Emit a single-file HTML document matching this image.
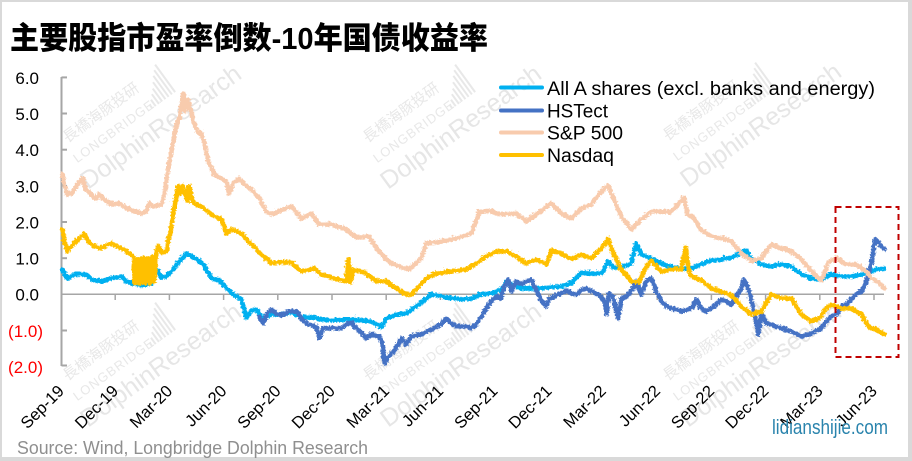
<!DOCTYPE html>
<html><head><meta charset="utf-8"><style>
html,body{margin:0;padding:0;background:#d9d9d9;}
svg{display:block;}
</style></head><body>
<svg width="912" height="461" viewBox="0 0 912 461" xmlns="http://www.w3.org/2000/svg">
<defs>
<filter id="rough" filterUnits="userSpaceOnUse" x="0" y="0" width="912" height="461">
  <feTurbulence type="turbulence" baseFrequency="0.35" numOctaves="1" seed="3" result="n"/>
  <feDisplacementMap in="SourceGraphic" in2="n" scale="4" xChannelSelector="R" yChannelSelector="G"/>
</filter>
<g id="wm" fill="#e6e6e6" font-family="Liberation Sans, Noto Sans CJK SC, sans-serif">
  <text x="11" y="-50" font-size="15" font-family="Noto Sans CJK TC, sans-serif" fill="#e8e8e8">長橋海豚投研</text>
  <text x="7" y="-28" font-size="13" fill="#e8e8e8" letter-spacing="1">LONGBRIDGE .</text>
  <g stroke="#e8e8e8" stroke-width="2">
    <line x1="100" y1="-28" x2="100" y2="-33"/><line x1="104" y1="-28" x2="104" y2="-36"/>
    <line x1="108" y1="-28" x2="108" y2="-40"/><line x1="112" y1="-28" x2="112" y2="-44"/>
    <line x1="116" y1="-28" x2="116" y2="-49"/><line x1="120" y1="-28" x2="120" y2="-54"/>
    <line x1="124" y1="-28" x2="124" y2="-58"/><line x1="128" y1="-28" x2="128" y2="-62"/>
  </g>
  <text x="0" y="0" font-size="25">DolphinResearch</text>
</g>
</defs>
<rect x="0" y="0" width="912" height="461" fill="#d9d9d9"/>
<rect x="2" y="2" width="906" height="455" fill="#ffffff"/>

<!-- watermarks -->
<use href="#wm" transform="translate(88,190) rotate(-36)"/>
<use href="#wm" transform="translate(388,190) rotate(-36)"/>
<use href="#wm" transform="translate(688,188) rotate(-36)"/>
<use href="#wm" transform="translate(88,428) rotate(-36)"/>
<use href="#wm" transform="translate(388,428) rotate(-36)"/>
<use href="#wm" transform="translate(688,428) rotate(-36)"/>

<!-- title -->
<text x="10" y="49" font-weight="900" font-size="31" fill="#000" textLength="478" lengthAdjust="spacingAndGlyphs" style="font-family:'Liberation Sans','Noto Sans CJK SC',sans-serif;">主要股指市盈率倒数-10年国债收益率</text>

<!-- y axis -->
<g stroke="#a6a6a6" stroke-width="2" fill="none">
  <line x1="61.5" y1="77" x2="61.5" y2="366"/>
  <line x1="61.5" y1="77.4" x2="67" y2="77.4"/>
  <line x1="61.5" y1="113.5" x2="67" y2="113.5"/>
  <line x1="61.5" y1="149.7" x2="67" y2="149.7"/>
  <line x1="61.5" y1="185.9" x2="67" y2="185.9"/>
  <line x1="61.5" y1="222" x2="67" y2="222"/>
  <line x1="61.5" y1="258.2" x2="67" y2="258.2"/>
  <line x1="61.5" y1="330.5" x2="67" y2="330.5"/>
  <line x1="61.5" y1="365.5" x2="67" y2="365.5"/>
</g>
<!-- x axis -->
<g stroke="#a6a6a6" stroke-width="1.5" fill="none">
  <line x1="61" y1="294.3" x2="884" y2="294.3"/>
  <line x1="115.2" y1="294" x2="115.2" y2="300"/>
  <line x1="169.4" y1="294" x2="169.4" y2="300"/>
  <line x1="223.6" y1="294" x2="223.6" y2="300"/>
  <line x1="277.8" y1="294" x2="277.8" y2="300"/>
  <line x1="332" y1="294" x2="332" y2="300"/>
  <line x1="386.2" y1="294" x2="386.2" y2="300"/>
  <line x1="440.4" y1="294" x2="440.4" y2="300"/>
  <line x1="494.6" y1="294" x2="494.6" y2="300"/>
  <line x1="548.8" y1="294" x2="548.8" y2="300"/>
  <line x1="603" y1="294" x2="603" y2="300"/>
  <line x1="657.2" y1="294" x2="657.2" y2="300"/>
  <line x1="711.4" y1="294" x2="711.4" y2="300"/>
  <line x1="765.6" y1="294" x2="765.6" y2="300"/>
  <line x1="819.8" y1="294" x2="819.8" y2="300"/>
  <line x1="874" y1="294" x2="874" y2="300"/>
</g>

<!-- y labels -->
<g font-family="Liberation Sans, sans-serif" font-size="17" text-anchor="end" fill="#000">
  <text x="39" y="84">6.0</text>
  <text x="39" y="120">5.0</text>
  <text x="39" y="156">4.0</text>
  <text x="39" y="192.5">3.0</text>
  <text x="39" y="228.5">2.0</text>
  <text x="39" y="264.5">1.0</text>
  <text x="39" y="300.5">0.0</text>
  <text x="43" y="337" fill="#ff0000">(1.0)</text>
  <text x="43" y="373" fill="#ff0000">(2.0)</text>
</g>

<!-- x labels -->
<g font-family="Liberation Sans, sans-serif" font-size="16.5" text-anchor="end" fill="#000">
  <text transform="translate(65,392) rotate(-45)">Sep-19</text>
  <text transform="translate(119.2,392) rotate(-45)">Dec-19</text>
  <text transform="translate(173.4,392) rotate(-45)">Mar-20</text>
  <text transform="translate(227.6,392) rotate(-45)">Jun-20</text>
  <text transform="translate(281.8,392) rotate(-45)">Sep-20</text>
  <text transform="translate(336,392) rotate(-45)">Dec-20</text>
  <text transform="translate(390.2,392) rotate(-45)">Mar-21</text>
  <text transform="translate(444.4,392) rotate(-45)">Jun-21</text>
  <text transform="translate(498.6,392) rotate(-45)">Sep-21</text>
  <text transform="translate(552.8,392) rotate(-45)">Dec-21</text>
  <text transform="translate(607,392) rotate(-45)">Mar-22</text>
  <text transform="translate(661.2,392) rotate(-45)">Jun-22</text>
  <text transform="translate(715.4,392) rotate(-45)">Sep-22</text>
  <text transform="translate(769.6,392) rotate(-45)">Dec-22</text>
  <text transform="translate(823.8,392) rotate(-45)">Mar-23</text>
  <text transform="translate(878,392) rotate(-45)">Jun-23</text>
</g>

<!-- series -->
<g fill="none" stroke-width="4.6" stroke-linejoin="round" stroke-linecap="round" filter="url(#rough)">
<!-- All A -->
<polyline stroke="#00b0f0" points="61,268 66,277 75,273 85,273 90,278 100,280 110,277 120,275 125,280 133,283 140,284 150,282 155,268 160,276 165,275 170,270 178,260 185,252 190,255 197,259 203,264 210,277 218,279 225,287 233,294 240,298 245,316 250,309 255,308 262,317 270,313 280,313 290,311 300,316 310,316 320,318 330,319 345,318 360,319 370,320 380,326 385,317 395,313 405,312 415,305 425,297 430,293 440,295 450,297 460,298 470,297 480,293 490,292 500,288 505,280 510,283 520,287 530,287 540,287 550,286 560,285 570,282 580,271 590,272 600,272 607,260 612,266 620,266 630,262 635,242 640,253 650,257 660,262 670,266 680,267 690,267 700,263 710,259 720,258 730,256 740,252 745,249 750,258 760,263 770,265 780,263 790,265 800,273 810,277 820,278 830,273 840,275 850,275 860,273 870,270 875,268 883,267"/>
<!-- HSTech -->
<polyline stroke="#4472c4" points="258,315 262,322 266,312 270,308 275,312 280,314 288,310 295,310 300,317 305,322 315,326 318,337 322,327 330,327 340,327 345,323 350,321 355,327 360,331 365,337 370,333 378,335 381,342 383,362 387,356 393,349 397,343 400,337 405,343 410,335 420,333 430,328 440,323 445,317 450,322 455,325 465,325 470,327 475,323 480,315 485,307 490,300 495,295 500,297 503,285 507,278 510,290 515,280 520,283 525,280 530,278 535,290 540,299 545,305 548,298 555,294 560,292 565,289 570,292 575,293 580,289 585,287 590,290 597,293 603,300 605,313 608,292 612,296 615,310 617,317 620,297 625,295 630,290 635,280 637,287 640,293 645,280 650,277 655,290 660,300 665,305 670,307 680,310 690,307 695,298 700,307 705,310 710,307 715,303 720,298 725,300 730,303 735,295 740,287 743,278 748,290 752,307 757,333 760,313 765,322 770,323 780,327 790,330 800,335 810,332 820,327 825,320 830,315 835,313 840,305 845,303 850,298 855,293 860,290 865,280 870,262 874,238 878,242 880,245 883,248"/>
<!-- S&P 500 -->
<polyline stroke="#f8cbad" points="61,173 63,183 66,193 70,192 75,185 80,178 82,177 84,188 90,193 95,198 98,193 103,198 110,203 118,202 125,207 133,210 140,212 145,210 148,202 152,205 160,203 163,193 167,167 170,150 173,133 176,120 178,117 180,103 182,92 184,110 187,98 189,108 192,120 196,130 200,132 203,143 207,160 213,173 220,177 225,180 228,192 232,182 238,177 243,183 250,188 258,197 265,210 270,213 275,211 282,208 290,205 300,217 310,212 318,223 330,223 345,228 355,236 368,235 375,247 382,255 390,262 400,266 408,268 414,262 420,257 425,242 440,240 455,237 470,232 478,210 490,210 500,213 515,212 525,220 535,213 550,202 560,212 570,217 580,207 590,203 600,190 607,184 612,197 620,215 630,228 640,218 650,210 660,210 668,211 675,205 683,196 686,213 692,216 700,229 710,235 720,237 730,240 740,252 750,260 760,257 770,243 780,247 790,250 800,258 810,270 820,279 827,261 835,257 845,263 855,263 865,270 870,277 876,280 883,287"/>
<!-- Nasdaq -->
<polygon fill="#ffc000" stroke="none" points="133,256 153,254 153,282 133,282"/>
<polyline stroke="#ffc000" points="61,228 63,240 66,250 70,245 75,240 80,235 83,233 87,240 90,243 95,246 100,247 105,244 110,242 115,245 120,247 125,250 130,253 133,258 133,282 136,258 138,282 141,257 143,282 146,258 148,282 151,257 153,280 155,250 157,245 160,251 165,250 168,235 171,218 174,200 177,185 179,192 181,184 183,190 186,200 188,185 191,200 195,203 200,205 210,213 220,218 225,232 230,228 240,232 250,243 260,253 270,262 280,261 290,261 300,270 313,267 320,273 333,277 345,280 347,258 349,281 352,268 360,270 365,272 375,280 385,280 395,287 405,293 410,293 415,288 425,277 435,272 450,270 465,268 475,262 485,255 495,250 505,250 515,255 525,262 535,258 545,263 550,249 560,252 570,258 580,253 590,257 600,247 607,238 612,252 620,268 630,280 637,281 645,265 650,259 660,270 670,268 680,268 684,246 687,268 690,275 700,279 710,287 720,290 730,294 740,305 750,313 760,310 770,293 780,297 790,297 800,313 810,320 818,317 825,307 830,303 840,307 850,307 860,313 868,326 875,328 883,333"/>
</g>

<!-- red dashed box -->
<rect x="835.5" y="207" width="63" height="150" fill="none" stroke="#c00000" stroke-width="2" stroke-dasharray="6,4"/>

<!-- legend -->
<g stroke-width="4" stroke-linecap="round">
  <line x1="501" y1="87.5" x2="542" y2="87.5" stroke="#00b0f0"/>
  <line x1="501" y1="110.5" x2="542" y2="110.5" stroke="#4472c4"/>
  <line x1="501" y1="132.5" x2="542" y2="132.5" stroke="#f8cbad"/>
  <line x1="501" y1="155" x2="542" y2="155" stroke="#ffc000"/>
</g>
<g font-family="Liberation Sans, sans-serif" font-size="19" fill="#000">
  <text x="547" y="95" textLength="328" lengthAdjust="spacingAndGlyphs">All A shares (excl. banks and energy)</text>
  <text x="547" y="117.5" textLength="61" lengthAdjust="spacingAndGlyphs">HSTect</text>
  <text x="547" y="139.5" textLength="76" lengthAdjust="spacingAndGlyphs">S&amp;P 500</text>
  <text x="547" y="162" textLength="67" lengthAdjust="spacingAndGlyphs">Nasdaq</text>
</g>

<!-- source -->
<text x="17" y="454" font-family="Liberation Sans, sans-serif" font-size="18" fill="#8f8f8f" textLength="351" lengthAdjust="spacingAndGlyphs">Source: Wind, Longbridge Dolphin Research</text>

<!-- site mark -->
<text x="772" y="434" font-family="Liberation Sans, sans-serif" font-size="20" fill="#2a84ad" textLength="116" lengthAdjust="spacingAndGlyphs">lidianshijie.com</text>
</svg>
</body></html>
